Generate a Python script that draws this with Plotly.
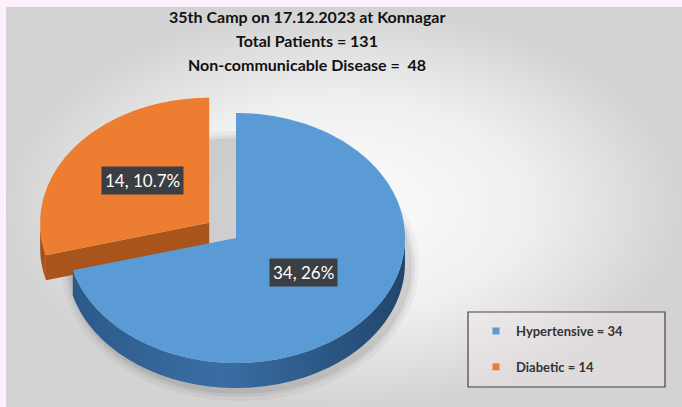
import numpy as np
import plotly.graph_objects as go

# ---------------- data ----------------
categories = ["Hypertensive", "Diabetic"]
values = [34, 14]
total_patients = 131
title_lines = [
    "35th Camp on 17.12.2023 at Konnagar",
    "Total Patients = 131",
    "Non-communicable Disease = \u00a048",
]

# ---------------- style ----------------
top_colors = ["#5B9BD5", "#ED7D31"]
wall_scales = [
    [[0, "#2b5a88"], [0.45, "#3a6ea3"], [1, "#21466c"]],
    [[0, "#9c4c18"], [1, "#b45b1f"]],
]
radial_wall_colors = ["#2e5f8f", "#a9541b"]
explode = [0.0, 0.2]
label_r = [0.5, 0.5]

W, H = 682, 407
cx, cy, a, b, depth = 236, 238, 169, 125, 25

fig = go.Figure()

# background panel with gradient
bx = [6, W, W, 6, 6]
by = [7, 7, H, H, 7]
fig.add_trace(go.Scatter(
    x=bx, y=by, mode="none", fill="toself", hoverinfo="skip", showlegend=False,
    fillgradient=dict(type="radial",
                      colorscale=[[0, "#fcfcfc"], [0.55, "#efefef"], [1, "#d3d3d3"]]),
))


def pts(thetas, r, ox, oy, dz=0.0):
    t = np.radians(thetas)
    return ox + a * r * np.sin(t), oy - b * r * np.cos(t) + dz


# soft shadow under the pie
for k, alpha in [(10, 0.035), (6, 0.05), (3, 0.07)]:
    th = np.linspace(0, 360, 200)
    sx, sy = pts(th, 1.0, cx + 4, cy + depth + 3)
    sx = cx + 4 + (sx - cx - 4) * (1 + k / a)
    sy = cy + depth + 3 + (sy - cy - depth - 3) * (1 + k / b)
    fig.add_trace(go.Scatter(x=sx, y=sy, mode="none", fill="toself",
                             fillcolor=f"rgba(0,0,0,{alpha})",
                             hoverinfo="skip", showlegend=False))

total = sum(values)
fracs = [v / total for v in values]
starts = np.concatenate([[0], np.cumsum(fracs)[:-1]]) * 360
ends = np.cumsum(fracs) * 360
mids = (starts + ends) / 2

# draw back slices first
order = sorted(range(len(values)), key=lambda i: -np.cos(np.radians(mids[i])))
annotations = []
for i in order:
    s, e, m = starts[i], ends[i], mids[i]
    ox = cx + a * explode[i] * np.sin(np.radians(m))
    oy = cy - b * explode[i] * np.cos(np.radians(m))
    # radial walls
    for ang, vis in [(s, np.sin(np.radians(s)) < -1e-6), (e, np.sin(np.radians(e)) > 1e-6)]:
        if vis:
            ex_, ey_ = pts([ang], 1.0, ox, oy)
            fig.add_trace(go.Scatter(
                x=[ox, ex_[0], ex_[0], ox, ox],
                y=[oy, ey_[0], ey_[0] + depth, oy + depth, oy],
                mode="none", fill="toself", fillcolor=radial_wall_colors[i],
                hoverinfo="skip", showlegend=False, legendgroup=categories[i]))
    # outer wall (front half only)
    lo, hi = max(s, 90), min(e, 270)
    if lo < hi:
        th = np.linspace(lo, hi, 120)
        tx, ty = pts(th, 1.0, ox, oy)
        bx_, by_ = pts(th[::-1], 1.0, ox, oy, depth)
        fig.add_trace(go.Scatter(
            x=np.concatenate([tx, bx_, tx[:1]]), y=np.concatenate([ty, by_, ty[:1]]),
            mode="none", fill="toself",
            fillgradient=dict(type="horizontal", colorscale=wall_scales[i]),
            hoverinfo="skip", showlegend=False, legendgroup=categories[i]))
    # top face
    th = np.linspace(s, e, 200)
    tx, ty = pts(th, 1.0, ox, oy)
    fig.add_trace(go.Scatter(
        x=np.concatenate([[ox], tx, [ox]]), y=np.concatenate([[oy], ty, [oy]]),
        mode="none", fill="toself", fillcolor=top_colors[i],
        name=f"{categories[i]} = {values[i]}", legendgroup=categories[i],
        hovertemplate=f"{categories[i]}: {values[i]}<extra></extra>", showlegend=False))
    # data label
    lx, ly = pts([m], label_r[i], ox, oy)
    pct = round(values[i] / total_patients * 100, 1)
    annotations.append(dict(
        x=lx[0], y=ly[0] - 4, xref="x", yref="y", text=f"{values[i]}, {pct:g}%",
        showarrow=False, bgcolor="#3b3e43", borderpad=3,
        font=dict(family="Lato", size=17, color="white")))

# legend proxies
for i, cat in enumerate(categories):
    fig.add_trace(go.Scatter(
        x=[None], y=[None], mode="markers",
        marker=dict(symbol="square", size=7, color=top_colors[i]),
        name=f"<b>{cat} = {values[i]}</b>", legendgroup=cat, showlegend=True))

# title lines
for k, line in enumerate(title_lines):
    annotations.append(dict(
        x=307, y=16 + 24 * k, xref="x", yref="y", text=f"<b>{line}</b>",
        showarrow=False, font=dict(family="Lato", size=16, color="#111111")))

fig.update_layout(
    width=W, height=H, autosize=False,
    margin=dict(l=0, r=0, t=0, b=0),
    paper_bgcolor="#fcf0fc", plot_bgcolor="rgba(0,0,0,0)",
    xaxis=dict(range=[0, W], visible=False, fixedrange=True),
    yaxis=dict(range=[H, 0], visible=False, fixedrange=True),
    showlegend=True,
    legend=dict(x=476 / W, y=1 - 316 / H, xanchor="left", yanchor="top",
                bgcolor="rgba(0,0,0,0)", tracegroupgap=16, itemwidth=30,
                font=dict(family="Lato", size=13, color="#333333")),
    annotations=annotations,
    shapes=[dict(type="rect", xref="x", yref="y", x0=468, x1=665, y0=312, y1=387,
                 line=dict(color="#4a4046", width=1.2),
                 fillcolor="rgba(245,236,240,0.35)", layer="above")],
)

fig.write_html("out.html", config={"displayModeBar": False},
               post_script="document.body.style.margin='0';")
